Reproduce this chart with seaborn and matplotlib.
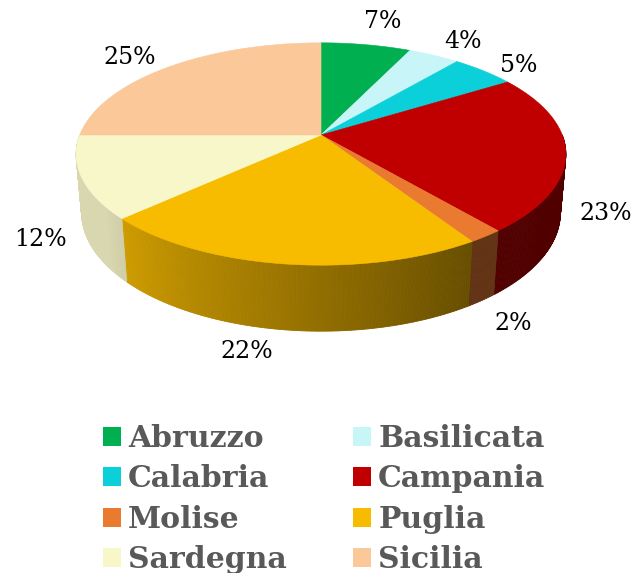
import numpy as np
import matplotlib
matplotlib.use("Agg")
import matplotlib.pyplot as plt
from matplotlib.patches import Polygon, Patch
from matplotlib.collections import PolyCollection
from matplotlib.colors import to_rgb
import seaborn as sns

regions = ["Abruzzo", "Basilicata", "Calabria", "Campania",
           "Molise", "Puglia", "Sardegna", "Sicilia"]
shares = [7, 4, 5, 23, 2, 22, 12, 25]
colors = ["#00b050", "#c8f6f8", "#0bd0d9", "#c00000",
          "#e97a30", "#f7bb00", "#f8f7c9", "#fbc999"]
labels = [f"{v}%" for v in shares]

# where the percent labels sit (figure pixels, from top-left)
label_xy = [(383, 22), (463, 42), (519, 66), (606, 213),
            (513, 323), (247, 352), (40, 240), (130, 58)]

# simple perspective camera for the 3d disc
ELEV = np.radians(26)
DIST = 5.26
DEPTH = 0.267
SCALE_X, SCALE_Y = 1269, 1295
CX, CY = 321, 135
W, H = 633, 573


def project(theta, z=0.0):
    x = np.cos(theta)
    y = np.sin(theta)
    s, c = np.sin(ELEV), np.cos(ELEV)
    d = y * c + DIST - z * s
    return CX + x / d * SCALE_X, CY - (y * s + z * c) / d * SCALE_Y


def side_shade(theta_deg):
    return 0.42 + 0.45 * np.clip((-58 - theta_deg) / 85, 0, 1)


sns.set_style("white")
plt.rcParams['font.family'] = ['DejaVu Serif']

fig = plt.figure(figsize=(W / 100, H / 100), dpi=100)
ax = fig.add_axes([0, 0, 1, 1])
ax.set_xlim(0, W)
ax.set_ylim(H, 0)
ax.axis("off")

bounds = 90 - 360 * np.concatenate([[0], np.cumsum(shares)]) / sum(shares)

# front wall first
for i, col in enumerate(colors):
    a0, a1 = bounds[i], bounds[i + 1]
    lo, hi = max(a1, -180), min(a0, 0)
    if hi <= lo:
        continue
    steps = np.linspace(lo, hi, max(int((hi - lo) * 2), 2))
    quads, fc = [], []
    rgb = np.array(to_rgb(col))
    for t0, t1 in zip(steps[:-1], steps[1:]):
        r0, r1 = np.radians(t0), np.radians(t1)
        quads.append([project(r0), project(r1),
                      project(r1, -DEPTH), project(r0, -DEPTH)])
        fc.append(rgb * side_shade((t0 + t1) / 2))
    ax.add_collection(PolyCollection(quads, facecolors=fc, edgecolors=fc,
                                     linewidths=0.6))

# top faces
for i, col in enumerate(colors):
    th = np.radians(np.linspace(bounds[i], bounds[i + 1], 80))
    xs, ys = project(th)
    pts = np.column_stack([np.r_[CX, xs], np.r_[CY, ys]])
    ax.add_patch(Polygon(pts, closed=True, facecolor=col, edgecolor=col,
                         linewidth=0.4))

for lab, (x, y) in zip(labels, label_xy):
    ax.text(x, y, lab, ha="center", va="center", fontsize=17, color="black")

handles = [Patch(facecolor=c, edgecolor="none") for c in colors]
order = list(range(0, 8, 2)) + list(range(1, 8, 2))
fig.legend([handles[i] for i in order], [regions[i] for i in order],
           ncol=2, loc="upper left", bbox_to_anchor=(103 / W, 1 - 424 / H),
           frameon=False, borderpad=0, borderaxespad=0,
           handlelength=0.6, handleheight=0.6, handletextpad=0.23,
           labelspacing=0.38, columnspacing=2.24,
           prop={"weight": "bold", "size": 21.5}, labelcolor="#595959")

fig.savefig("out.png", dpi=100)
